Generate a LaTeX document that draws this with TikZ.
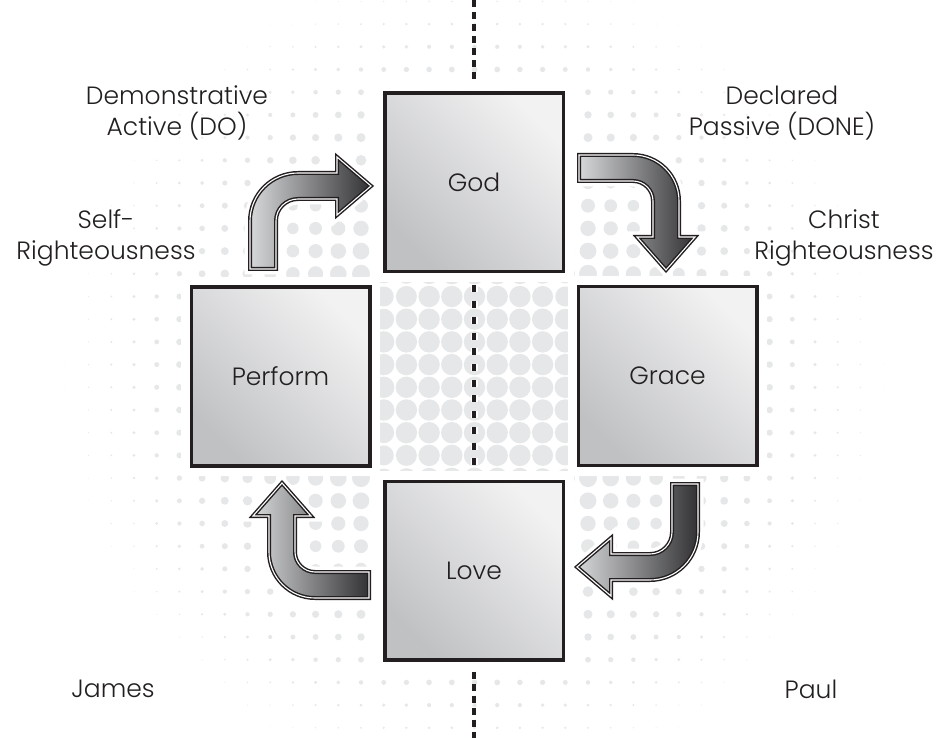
\documentclass[tikz,border=0pt]{standalone}
\usepackage{fontspec}
\setmainfont{Poppins Light}
\definecolor{dotc}{RGB}{230,231,232}
\definecolor{ink}{RGB}{35,31,32}
\definecolor{boxlight}{RGB}{242,242,243}
\definecolor{boxdark}{RGB}{192,193,195}
\definecolor{arrlight}{RGB}{215,216,218}
\definecolor{arrdark}{RGB}{50,50,52}
\newcommand\lblfont{\fontsize{25}{31}\selectfont}
\begin{document}
\begin{tikzpicture}[x=1pt,y=-1pt,
  box/.style={draw=ink, line width=3.5pt, minimum width=178.5pt, minimum height=178.5pt,
    inner sep=0pt, top color=boxlight, bottom color=boxdark, shading angle=-45,
    preaction={draw=white, line width=21pt}, font=\lblfont, text=ink},
  lbl/.style={font=\lblfont, text=ink, align=center, inner sep=0pt},
  arr/.style={left color=arrlight, middle color=arrdark, right color=arrdark,
    draw=ink, line width=4pt, preaction={draw=white, line width=11pt},
    postaction={draw=white, line width=1.1pt}},
  dashline/.style={draw=ink, line width=4.5pt, dash pattern=on 7pt off 5pt},
  dashmid/.style={draw=ink, line width=4.5pt, dash pattern=on 7pt off 8.7pt},
  dashhalo/.style={draw=white, line width=7pt, dash pattern=on 7pt off 8.7pt},
]
\useasboundingbox (0,0) rectangle (943,738);
\fill[white] (0,0) rectangle (943,738);
% halftone dots
\foreach \i in {-21,...,20}{
  \foreach \j in {-17,...,15}{
    \pgfmathsetmacro\px{474.5+22.7*\i}
    \pgfmathsetmacro\py{387.3+22.7*\j}
    \pgfmathsetmacro\rr{100*veclen((\px-474.5)/100,(\py-376)/100)}
    \pgfmathsetmacro\tt{min(1,\rr/455)}
    \pgfmathsetmacro\dd{min(21.4,24*(0.5+0.5*cos(\tt*180)))}
    \ifdim\dd pt>0.6pt
      \fill[dotc] (\px,\py) circle[radius=0.5*\dd pt];
    \fi
  }}
% boxes
\node[box] (god) at (474,182.5) {God};
\node[box] (grace) at (667.5,376) {Grace};
\node[box] (love) at (474,570.5) {Love};
\node[box] (perform) at (280.5,376.5) {Perform};
% dashed axis
\coordinate (dtop) at (474,0);
\coordinate (dbot) at (474,738);
\draw[dashline] (dtop) -- ([yshift=8pt]god.north);
\draw[dashhalo] ([yshift=-12pt]god.south) -- ([yshift=8pt]love.north);
\draw[dashmid] ([yshift=-12pt]god.south) -- ([yshift=8pt]love.north);
\draw[dashline] ([yshift=-10pt]love.south) -- (dbot);
% bent arrows
\draw[arr] (250,269) -- (250,221) .. controls (250,194.5) and (271.5,173) .. (298,173)
  -- (337,173) -- (337,157) -- (371,186) -- (337,215) -- (337,199) -- (298,199)
  .. controls (285.8,199) and (276,208.8) .. (276,221) -- (276,269) -- cycle;
\draw[arr] (579,155) -- (633,155) .. controls (658.4,155) and (679,175.6) .. (679,201)
  -- (679,237) -- (695,237) -- (666,270) -- (637,237) -- (653,237) -- (653,201)
  .. controls (653,190) and (644,181) .. (633,181) -- (579,181) -- cycle;
\draw[arr] (698,484) -- (698,532) .. controls (698,558.5) and (676.5,580) .. (650,580)
  -- (611,580) -- (611,596) -- (577,567) -- (611,538) -- (611,554) -- (650,554)
  .. controls (662.2,554) and (672,544.2) .. (672,532) -- (672,484) -- cycle;
\draw[arr] (369,598) -- (315,598) .. controls (289.6,598) and (269,577.4) .. (269,552)
  -- (269,516) -- (253,516) -- (282,483) -- (311,516) -- (295,516) -- (295,552)
  .. controls (295,563) and (304,572) .. (315,572) -- (369,572) -- cycle;
% labels
\node[lbl] (demo) at (177,113) {Demonstrative\\Active (DO)};
\node[lbl] (decl) at (782,113) {Declared\\Passive (DONE)};
\node[lbl] (self) at (106,238) {Self-\\Righteousness};
\node[lbl] (christ) at (844,238) {Christ\\Righteousness};
\node[lbl] (james) at (113,689) {James};
\node[lbl] (paul) at (811,689) {Paul};
\end{tikzpicture}
\end{document}
